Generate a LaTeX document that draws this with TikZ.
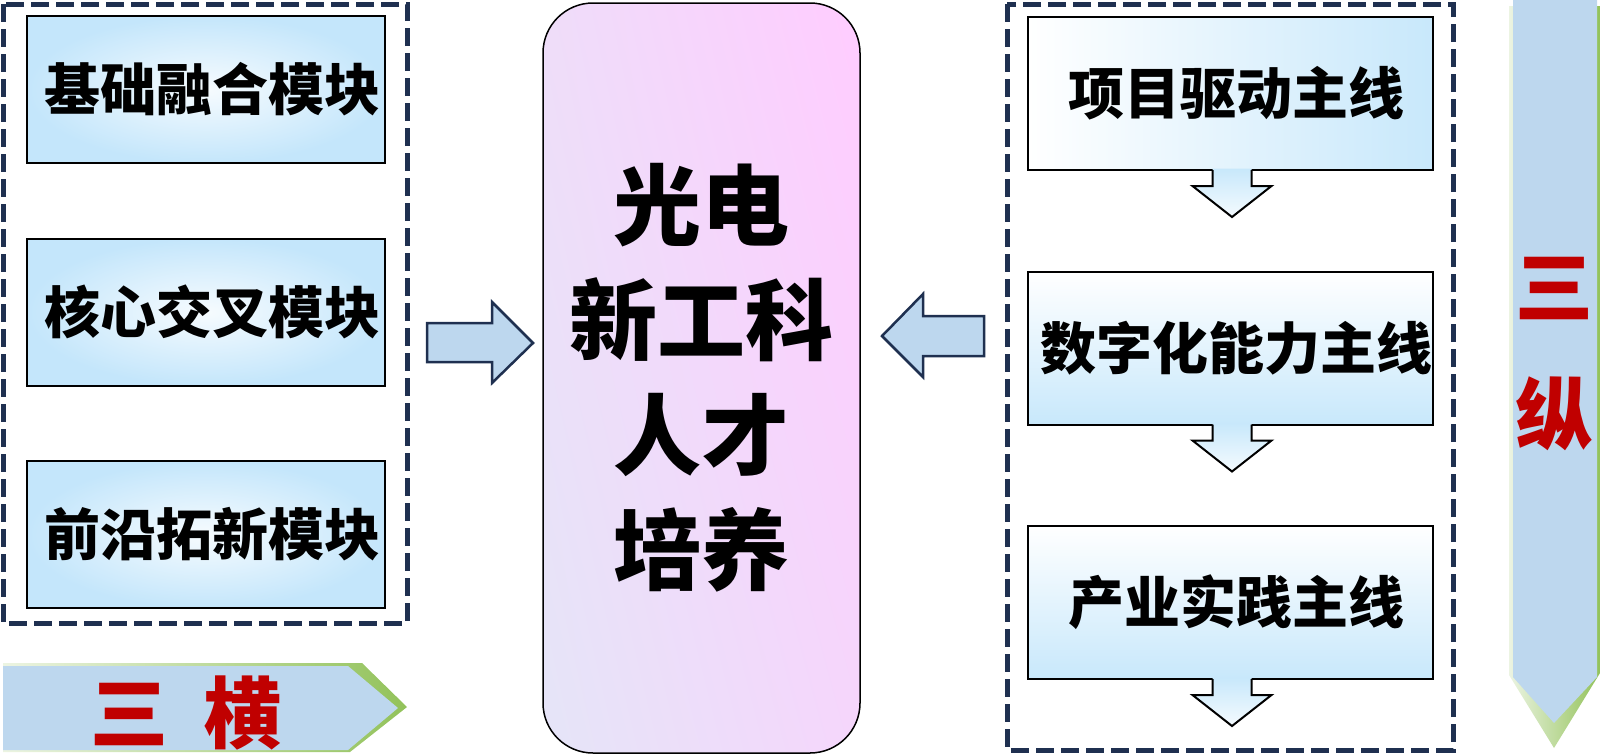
\documentclass[tikz,border=0pt]{standalone}
\usepackage{fontspec}
\setmainfont{Noto Sans CJK SC}
\usetikzlibrary{positioning}
\usetikzlibrary{calc}
\usetikzlibrary{shadings}
\definecolor{navy}{RGB}{31,48,80}
\definecolor{arrowblue}{RGB}{189,215,238}
\definecolor{modblue}{RGB}{196,230,251}
\definecolor{lineblue}{RGB}{200,232,251}
\definecolor{trired}{RGB}{192,0,0}
\definecolor{leafgreen}{RGB}{146,194,90}
\definecolor{palegreen}{RGB}{236,244,226}
\definecolor{lavender}{RGB}{229,229,248}
\definecolor{lilac}{RGB}{239,221,249}
\definecolor{pinky}{RGB}{255,204,255}
\definecolor{orchid}{RGB}{245,214,251}
\tikzset{
	module/.style={draw, line width=2pt, inner xsep=0pt, minimum width=358pt, minimum height=147pt, inner color=white!85!modblue, outer color=modblue, font=\fontsize{56}{60}\selectfont\bfseries, execute at begin node={\hspace*{12pt}}},
	mainline/.style={draw, line width=2pt, inner xsep=0pt, minimum width=405pt, minimum height=153pt, font=\fontsize{56}{60}\selectfont\bfseries, execute at begin node={\hspace*{12pt}}},
	% dashed frames round each group
	dashframe/.style={draw=navy, line width=5pt, dash pattern=on 18pt off 7pt},
	blockarrow/.style={fill=arrowblue, draw=navy, line width=2.5pt, line join=miter},
	trilabel/.style={text=trired, font=\fontsize{78}{127}\selectfont\bfseries, align=center},
}

\begin{document}
\begin{tikzpicture}[x=1pt, y=-1pt]
	\useasboundingbox (0,0) rectangle (1600,755);
	
	\node (m1) [module] at (206,89.5) {基础融合模块};
	\node (m2) [module, below=73.5pt of m1] {核心交叉模块};
	\node (m3) [module, below=73.5pt of m2] {前沿拓新模块};
	\draw [dashframe] (3,4) rectangle (407,623);
	
	\node (c) [draw, line width=1.5pt, rounded corners=50pt, minimum width=317pt, minimum height=750pt,
		upper left=lilac, upper right=pinky, lower left=lavender, lower right=orchid,
		align=center, font=\fontsize{88}{115}\selectfont\bfseries] at (701.5,378) {光电\\新工科\\人才\\培养};
	
	\node (r1) [mainline, left color=white, right color=lineblue] at (1230.5,93.5) {项目驱动主线};
	\node (r2) [mainline, top color=white, bottom color=lineblue, below=99.5pt of r1] {数字化能力主线};
	\node (r3) [mainline, top color=white, bottom color=lineblue, below=99.5pt of r2] {产业实践主线};
	\draw [dashframe] (1007,4) rectangle (1453,750);
	
	\foreach \b in {r1,r2,r3} {
		\shade [top color=lineblue, bottom color=white!80!lineblue]
			($(\b.south)+(-18,-2.5)$) -- ($(\b.south)+(-18,15)$) -- ($(\b.south)+(-38,15)$) -- ($(\b.south)+(1.5,46)$)
			-- ($(\b.south)+(41,15)$) -- ($(\b.south)+(21,15)$) -- ($(\b.south)+(21,-2.5)$) -- cycle;
		\draw [line width=2pt, line join=miter]
			($(\b.south)+(-18,-1)$) -- ($(\b.south)+(-18,15)$) -- ($(\b.south)+(-38,15)$) -- ($(\b.south)+(1.5,46)$)
			-- ($(\b.south)+(41,15)$) -- ($(\b.south)+(21,15)$) -- ($(\b.south)+(21,-1)$);
	}
	
	\draw [blockarrow] (427,323) -- (492,323) -- (492,302) -- (533,343) -- (492,383) -- (492,362) -- (427,362) -- cycle;
	\draw [blockarrow] (984,316) -- (923,316) -- (923,294) -- (882,336) -- (923,377) -- (923,356) -- (984,356) -- cycle;
	
	\shade [left color=palegreen, right color=leafgreen] (3,663) -- (362,663) -- (407,707) -- (350,752) -- (3,752) -- cycle;
	\fill [arrowblue] (3,666) -- (348,666) -- (398,708) -- (348,750) -- (3,750) -- cycle;
	\node (heng) [trilabel] at (186,713) {三\hspace{36pt}横};
	
	\shade [left color=palegreen, right color=leafgreen] (1509,6) -- (1600,6) -- (1600,673) -- (1554,748) -- (1509,675) -- cycle;
	\fill [arrowblue] (1513,0) -- (1597,0) -- (1597,677) -- (1554,723) -- (1513,677) -- cycle;
	\node (zong) [trilabel] at (1554,354.5) {三\\纵};
	
\end{tikzpicture}
\end{document}
